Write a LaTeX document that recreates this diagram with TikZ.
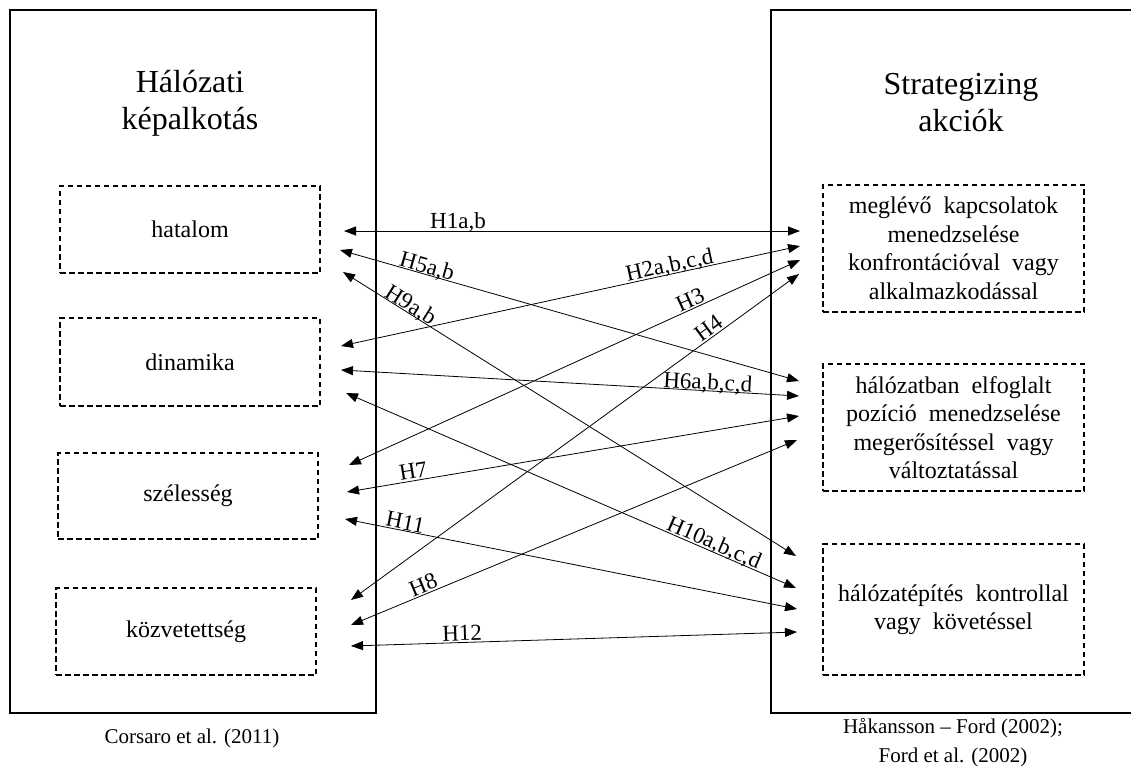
\documentclass[tikz,border=0pt]{standalone}
\usepackage{fontspec}
\setmainfont{Liberation Serif}
\usetikzlibrary{arrows.meta}
\begin{document}
\begin{tikzpicture}[x=1pt,y=-1pt,
  bigbox/.style={draw, line width=1.5pt},
  dbox/.style={draw, line width=1.3pt, dash pattern=on 5.5pt off 3.5pt, inner sep=0pt},
  conn/.style={line width=0.8pt, {Triangle[length=12pt,width=9pt]}-{Triangle[length=12pt,width=9pt]}},
  lab/.style={sloped, anchor=base, inner sep=0pt, font=\fontsize{23}{26}\selectfont},
  body/.style={font=\fontsize{24}{28.5}\selectfont, align=center},
  title/.style={font=\fontsize{32}{37}\selectfont, align=center, inner sep=0pt},
  foot/.style={font=\fontsize{21}{29}\selectfont, align=center, inner sep=0pt}]
\useasboundingbox (0,0) rectangle (1131,767);
\fill[white] (0,0) rectangle (1131,767);

% containers
\draw[bigbox] (10,10) rectangle (376,713);
\draw[bigbox] (1140,10) -- (771,10) -- (771,713) -- (1140,713);

% titles
\node[title] (tl) at (190,103) {Hálózati\\képalkotás};
\node[title] (tr) at (961,103) {Strategizing\\akciók};

% left boxes
\node[dbox, body, minimum width=260pt, minimum height=87pt] (hat) at (190,229.5) {hatalom};
\node[dbox, body, minimum width=260pt, minimum height=88pt] (din) at (190,362) {dinamika};
\node[dbox, body, minimum width=260pt, minimum height=86pt] (sze) at (188,496) {szélesség};
\node[dbox, body, minimum width=260pt, minimum height=87pt] (koz) at (186,631.5) {közvetettség};

% right boxes
\node[dbox, body, minimum width=261pt, minimum height=127pt] (meg) at (953.5,248.5)
  {meglévő \ kapcsolatok\\menedzselése\\konfrontációval \ vagy\\alkalmazkodással};
\node[dbox, body, minimum width=261pt, minimum height=127pt] (poz) at (953.5,427.5)
  {hálózatban \ elfoglalt\\pozíció \ menedzselése\\megerősítéssel \ vagy\\változtatással};
\node[dbox, body, minimum width=261pt, minimum height=131pt] (epi) at (953.5,609.5)
  {hálózatépítés \ kontrollal\\vagy \ követéssel};

% footers
\node[foot] (fl) at (192,738) {Corsaro et al. (2011)};
\node[foot] (fr) at (953,743) {Håkansson – Ford (2002);\\Ford et al. (2002)};

% arrow end points
\coordinate (L1) at (344,231);   \coordinate (R1) at (800,231);
\coordinate (L2) at (341,346);   \coordinate (R2) at (800,246);
\coordinate (L3) at (349,465);   \coordinate (R3) at (800,260);
\coordinate (L4) at (351,600);   \coordinate (R4) at (799,274);
\coordinate (L5) at (340,250);   \coordinate (R5) at (799,381);
\coordinate (L6) at (341,370);   \coordinate (R6) at (799,396);
\coordinate (L7) at (347,492);   \coordinate (R7) at (799,416);
\coordinate (L8) at (351,625);   \coordinate (R8) at (797,440);
\coordinate (L9) at (343,272);   \coordinate (R9) at (796,556);
\coordinate (L10) at (346,393);  \coordinate (R10) at (796,588);
\coordinate (L11) at (345,519);  \coordinate (R11) at (797,609);
\coordinate (L12) at (351,646);  \coordinate (R12) at (797,632);

\draw[conn] (L1) -- node[lab,pos=.25]{\raisebox{2pt}{H1a,b}} (R1);
\draw[conn] (L2) -- node[lab,pos=.72]{\raisebox{2pt}{H2a,b,c,d}} (R2);
\draw[conn] (L3) -- node[lab,pos=.765]{\raisebox{2pt}{H3}} (R3);
\draw[conn] (L4) -- node[lab,pos=.81]{\raisebox{2pt}{H4}} (R4);
\draw[conn] (L5) -- node[lab,pos=.185]{\raisebox{1pt}{H5a,b}} (R5);
\draw[conn] (L6) -- node[lab,pos=.80]{\raisebox{1pt}{H6a,b,c,d}} (R6);
\draw[conn] (L7) -- node[lab,pos=.15]{\raisebox{2pt}{H7}} (R7);
\draw[conn] (L8) -- node[lab,pos=.17]{\raisebox{2pt}{H8}} (R8);
\draw[conn] (L9) -- node[lab,pos=.14]{\raisebox{1pt}{H9a,b}} (R9);
\draw[conn] (L10) -- node[lab,pos=.81]{\raisebox{2pt}{H10a,b,c,d}} (R10);
\draw[conn] (L11) -- node[lab,pos=.13]{\raisebox{1pt}{H11}} (R11);
\draw[conn] (L12) -- node[lab,pos=.25]{\raisebox{2pt}{H12}} (R12);
\end{tikzpicture}
\end{document}
